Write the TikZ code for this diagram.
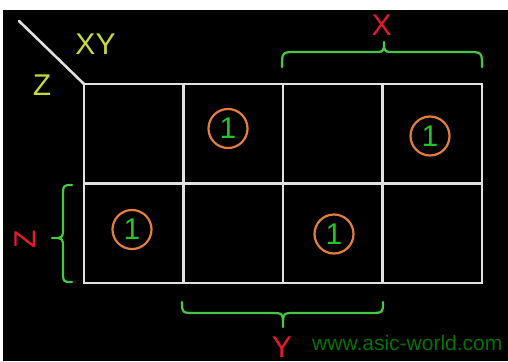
\documentclass[tikz,border=0pt]{standalone}
\usepackage{fontspec}
\setmainfont{Liberation Sans}
\definecolor{gridline}{RGB}{225,225,225}
\definecolor{labyellow}{RGB}{200,215,60}
\definecolor{labred}{RGB}{232,25,45}
\definecolor{bracegreen}{RGB}{70,200,70}
\definecolor{ringorange}{RGB}{228,125,60}
\definecolor{onegreen}{RGB}{40,195,40}
\definecolor{urlgreen}{RGB}{0,115,0}
\tikzset{
  cellline/.style={draw=gridline, line width=2.6pt},
  bracepath/.style={draw=bracegreen, line width=2.2pt, line cap=round, line join=round},
  axislabel/.style={text=labyellow, font=\fontsize{30}{36}\selectfont, inner sep=0pt},
  varlabel/.style={text=labred, font=\fontsize{30}{36}\selectfont, inner sep=0pt},
  onecell/.style={circle, draw=ringorange, line width=2.2pt, minimum size=39pt, inner sep=0pt,
                  text=onegreen, font=\fontsize{30}{36}\selectfont},
}
\begin{document}
\begin{tikzpicture}[x=1pt,y=-1pt]
  \useasboundingbox (0,0) rectangle (508,361);
  \fill[white] (0,0) rectangle (508,361);
  \fill[black] (3,10) rectangle (508,361);

  % map corners
  \coordinate (tl) at (84,84);
  \coordinate (br) at (482,283);
  \coordinate (corner) at (19,21);

  % grid of 4 x 2 cells
  \draw[cellline] (tl) rectangle (br);
  \draw[cellline] (84,183.5) -- (482,183.5);
  \foreach \x in {183.5,283,382.5} \draw[cellline] (\x,84) -- (\x,283);
  \draw[cellline, line cap=round] (corner) -- (tl);

  % corner labels
  \node[axislabel] (xy) at (95.5,44.5) {XY};
  \node[axislabel] (zc) at (42,85) {Z};

  % braces
  \draw[bracepath] (282,67) .. controls (282,52) .. (297,52) -- (372,52)
        .. controls (384,52) .. (384,42) .. controls (384,52) .. (396,52)
        -- (467,52) .. controls (482,52) .. (482,67);
  \draw[bracepath] (182,302) .. controls (182,313) .. (196,313) -- (271,313)
        .. controls (283,313) .. (283,327) .. controls (283,313) .. (295,313)
        -- (369,313) .. controls (383,313) .. (383,302);
  \draw[bracepath] (72,185) .. controls (63,185) .. (63,198) -- (63,228)
        .. controls (63,238) .. (52,238) .. controls (63,238) .. (63,248)
        -- (63,270) .. controls (63,282) .. (72,282);

  % variable names
  \node[varlabel] (xv) at (381.5,25.5) {X};
  \node[varlabel] (yv) at (282,347) {Y};
  \node[varlabel, rotate=90] (zv) at (25,239) {Z};

  % minterms set to one
  \node[onecell] (m1) at (228,128.5) {1};
  \node[onecell] (m2) at (430,136) {1};
  \node[onecell] (m3) at (132,229.5) {1};
  \node[onecell] (m4) at (334,234) {1};

  \node[text=urlgreen, font=\fontsize{21}{25}\selectfont, anchor=base west, inner sep=0pt]
    (url) at (312,350) {www.asic-world.com};
\end{tikzpicture}
\end{document}
